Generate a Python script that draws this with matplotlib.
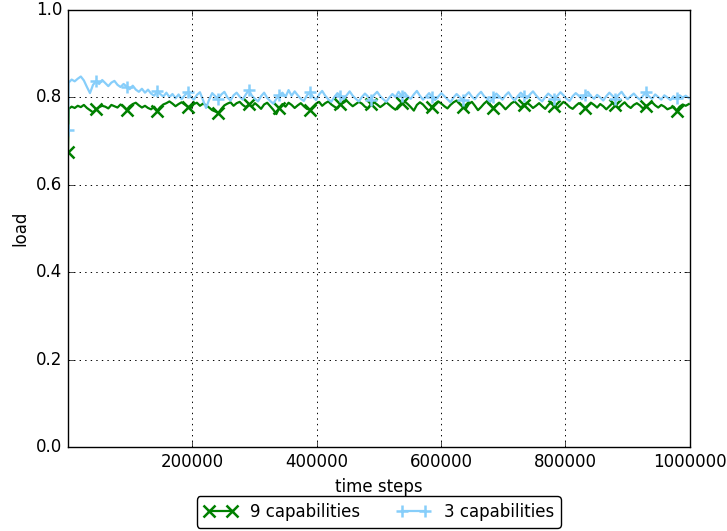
import numpy as np
import matplotlib
matplotlib.use("Agg")
import matplotlib.pyplot as plt

plt.style.use("classic")

# first sample at t=0, then regular samples
first_sample = 1000
sample_interval = 4915

load_9cap = [
    0.675,
    0.774, 0.779, 0.776, 0.781, 0.778, 0.783, 0.776, 0.771, 0.766, 0.773,
    0.778, 0.781, 0.779, 0.775, 0.783, 0.780, 0.777, 0.784, 0.779, 0.772,
    0.780, 0.785, 0.788, 0.782, 0.777, 0.781, 0.776, 0.773, 0.779, 0.770,
    0.778, 0.784, 0.787, 0.791, 0.786, 0.780, 0.785, 0.789, 0.784, 0.779,
    0.776, 0.785, 0.788, 0.781, 0.786, 0.782, 0.777, 0.771, 0.768, 0.765,
    0.774, 0.782, 0.786, 0.789, 0.781, 0.787, 0.790, 0.783, 0.778, 0.784,
    0.779, 0.787, 0.781, 0.774, 0.784, 0.788, 0.780, 0.772, 0.762, 0.777,
    0.785, 0.779, 0.788, 0.783, 0.776, 0.782, 0.787, 0.780, 0.774, 0.772,
    0.779, 0.786, 0.790, 0.781, 0.787, 0.791, 0.784, 0.779, 0.775, 0.784,
    0.788, 0.793, 0.786, 0.780, 0.785, 0.790, 0.786, 0.779, 0.775, 0.785,
    0.789, 0.784, 0.778, 0.783, 0.789, 0.783, 0.777, 0.772, 0.781, 0.787,
    0.791, 0.785, 0.778, 0.770, 0.783, 0.789, 0.784, 0.776, 0.769, 0.779,
    0.786, 0.791, 0.786, 0.780, 0.775, 0.783, 0.789, 0.793, 0.786, 0.779,
    0.774, 0.785, 0.790, 0.781, 0.771, 0.778, 0.786, 0.792, 0.784, 0.776,
    0.783, 0.788, 0.781, 0.773, 0.780, 0.787, 0.791, 0.784, 0.777, 0.783,
    0.788, 0.783, 0.776, 0.781, 0.787, 0.780, 0.774, 0.783, 0.789, 0.781,
    0.776, 0.783, 0.790, 0.785, 0.778, 0.774, 0.781, 0.787, 0.783, 0.776,
    0.781, 0.788, 0.783, 0.777, 0.785, 0.780, 0.773, 0.780, 0.787, 0.782,
    0.776, 0.783, 0.789, 0.781, 0.776, 0.783, 0.787, 0.782, 0.775, 0.780,
    0.785, 0.789, 0.782, 0.777, 0.783, 0.779, 0.773, 0.776, 0.779, 0.770,
    0.779, 0.784, 0.781, 0.785,
]

load_3cap = [
    0.725,
    0.834, 0.841, 0.837, 0.843, 0.848, 0.839, 0.824, 0.810, 0.829, 0.837,
    0.831, 0.840, 0.833, 0.826, 0.834, 0.838, 0.829, 0.824, 0.831, 0.825,
    0.819, 0.827, 0.818, 0.813, 0.820, 0.811, 0.818, 0.809, 0.804, 0.814,
    0.808, 0.802, 0.811, 0.801, 0.808, 0.798, 0.807, 0.796, 0.805, 0.812,
    0.802, 0.795, 0.806, 0.812, 0.794, 0.776, 0.795, 0.810, 0.803, 0.797,
    0.807, 0.813, 0.800, 0.793, 0.805, 0.811, 0.802, 0.795, 0.807, 0.817,
    0.804, 0.797, 0.791, 0.803, 0.811, 0.799, 0.792, 0.786, 0.797, 0.805,
    0.811, 0.801, 0.817, 0.804, 0.814, 0.805, 0.797, 0.792, 0.805, 0.812,
    0.802, 0.794, 0.807, 0.815, 0.804, 0.796, 0.790, 0.801, 0.810, 0.803,
    0.796, 0.805, 0.814, 0.804, 0.797, 0.791, 0.801, 0.809, 0.802, 0.795,
    0.806, 0.813, 0.803, 0.796, 0.790, 0.800, 0.808, 0.801, 0.813, 0.803,
    0.811, 0.802, 0.797, 0.807, 0.815, 0.804, 0.795, 0.802, 0.810, 0.800,
    0.794, 0.802, 0.810, 0.803, 0.796, 0.789, 0.800, 0.808, 0.801, 0.794,
    0.805, 0.812, 0.802, 0.796, 0.806, 0.813, 0.803, 0.797, 0.790, 0.801,
    0.809, 0.802, 0.795, 0.805, 0.812, 0.801, 0.793, 0.803, 0.811, 0.804,
    0.798, 0.807, 0.814, 0.805, 0.797, 0.791, 0.801, 0.809, 0.803, 0.796,
    0.804, 0.812, 0.805, 0.797, 0.792, 0.803, 0.810, 0.804, 0.796, 0.806,
    0.813, 0.803, 0.797, 0.806, 0.800, 0.793, 0.803, 0.811, 0.804, 0.797,
    0.806, 0.813, 0.803, 0.796, 0.803, 0.809, 0.801, 0.795, 0.804, 0.812,
    0.802, 0.797, 0.807, 0.801, 0.795, 0.805, 0.800, 0.794, 0.803, 0.798,
    0.805, 0.800, 0.804, 0.799,
]

time_steps = np.concatenate(
    [[0], first_sample + np.arange(len(load_9cap) - 1) * sample_interval])
x_ticks = [200000, 400000, 600000, 800000, 1000000]
y_ticks = [0.0, 0.2, 0.4, 0.6, 0.8, 1.0]

fig = plt.figure(figsize=(7.27, 5.31), dpi=100, facecolor="white")
ax = fig.add_axes([0.0935, 0.158, 0.855, 0.823])
ax.set_facecolor("white")

ax.plot(time_steps, load_9cap, color="green", lw=1.6, marker="x", ms=8,
        mew=1.8, markevery=10, label="9 capabilities")
ax.plot(time_steps, load_3cap, color="lightskyblue", lw=1.6, marker="+",
        ms=9, mew=1.8, markevery=10, label="3 capabilities")

ax.set_xlim(0, 1000000)
ax.set_ylim(0, 1.0)
ax.set_xticks(x_ticks)
ax.set_xticklabels([str(t) for t in x_ticks])
ax.set_yticks(y_ticks)
ax.grid(True, color="black", linestyle=":", linewidth=0.7)
ax.tick_params(labelsize=12)
ax.set_xlabel("time steps", fontsize=12)
ax.set_ylabel("load", fontsize=12)

leg = ax.legend(loc="upper center", bbox_to_anchor=(0.5, -0.113), ncol=2,
                numpoints=2, fancybox=True, fontsize=12, borderaxespad=0.0,
                handlelength=2.0, columnspacing=2.2)
leg.get_frame().set_edgecolor("black")

fig.savefig("out.png", dpi=100, facecolor="white")
